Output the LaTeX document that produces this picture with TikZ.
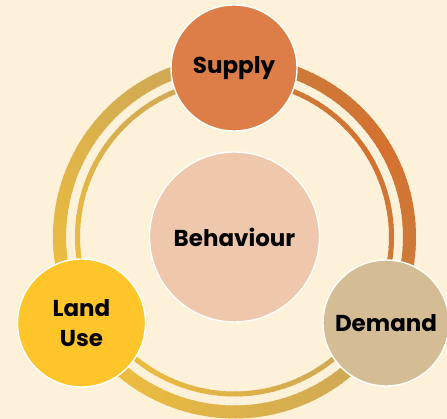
\documentclass[tikz,border=0pt]{standalone}
\usepackage{fontspec}
\setmainfont{Poppins}
\definecolor{cycBg}{HTML}{FEF1DA}
\definecolor{cycSupply}{HTML}{DD7E48}
\definecolor{cycCore}{HTML}{EFC7AC}
\definecolor{cycLand}{HTML}{FFC52A}
\definecolor{cycDemand}{HTML}{D4BC94}
\definecolor{cycTan}{HTML}{C9A45A}
\definecolor{cycYellow}{HTML}{F2C13A}
\definecolor{cycRust}{HTML}{CA7F3F}
\definecolor{cycOrange}{HTML}{D4712F}
\usetikzlibrary{calc}

\begin{document}
\begin{tikzpicture}[x=1pt, y=1pt,
  hub/.style={circle, draw=white, line width=1.4pt, align=center, inner sep=0pt,
    font=\fontsize{23}{30}\selectfont\bfseries},
  band/.style={line width=13pt},
  thinband/.style={line width=5pt}]
  \fill[cycBg] (0,0) rectangle (447,419);
  \useasboundingbox (0,0) rectangle (447,419);
  \coordinate (ctr) at (234.5,182);
  % three gradient arcs, outer thick and inner thin
  \foreach \a in {0,2,...,118} {
    \pgfmathsetmacro{\mixL}{100*\a/118}
    \pgfmathsetmacro{\mixR}{100*abs(\a-60)/60}
    \colorlet{segL}{cycYellow!\mixL!cycTan}
    \colorlet{segB}{cycTan!\mixL!cycYellow}
    \colorlet{segR}{cycRust!\mixR!cycOrange}
    \draw[band, segL] ($(ctr)+(90+\a:175)$) arc[start angle=90+\a, delta angle=2.6, radius=175];
    \draw[thinband, segL] ($(ctr)+(90+\a:157)$) arc[start angle=90+\a, delta angle=2.6, radius=157];
    \draw[band, segB] ($(ctr)+(210+\a:175)$) arc[start angle=210+\a, delta angle=2.6, radius=175];
    \draw[thinband, segB] ($(ctr)+(210+\a:157)$) arc[start angle=210+\a, delta angle=2.6, radius=157];
    \draw[band, segR] ($(ctr)+(330+\a:175)$) arc[start angle=330+\a, delta angle=2.6, radius=175];
    \draw[thinband, segR] ($(ctr)+(330+\a:157)$) arc[start angle=330+\a, delta angle=2.6, radius=157];
  }
  % circles
  \node[hub, fill=cycCore, minimum size=170pt] (behaviour) at (ctr) {Behaviour};
  \node[hub, fill=cycSupply, minimum size=126pt] (supply) at (234,351) {Supply};
  \node[hub, fill=cycLand, minimum size=128pt] (landuse) at (81.5,96) {Land\\Use};
  \node[hub, fill=cycDemand, minimum size=126pt] (demand) at (386,96) {Demand};
\end{tikzpicture}
\end{document}
